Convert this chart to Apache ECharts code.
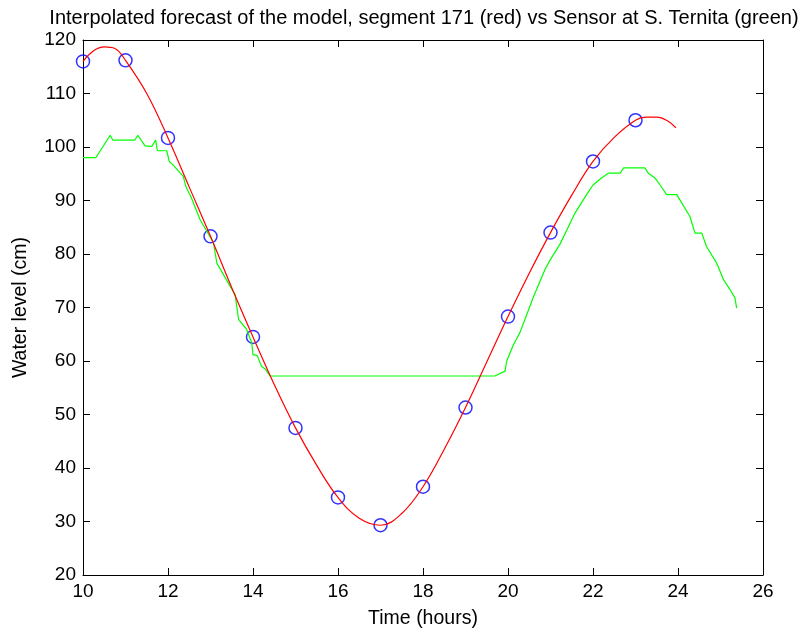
<!DOCTYPE html>
<html>
<head>
<meta charset="utf-8">
<script src="https://cdn.jsdelivr.net/npm/echarts@6/dist/echarts.min.js"></script>
<style>
  html, body { margin: 0; padding: 0; background: #fff; }
  #main { width: 804px; height: 634px; }
</style>
</head>
<body>
<div id="main"></div>
<script>
// hourly forecast points of the model (blue circles)
var markHours = [10, 11, 12, 13, 14, 15, 16, 17, 18, 19, 20, 21, 22, 23];
var markLevels = [116, 116.2, 101.7, 83.3, 64.5, 47.5, 34.5, 29.3, 36.5, 51.3, 68.3, 84, 97.3, 105];

// interpolated model curve (red)
var redHours = [10, 10.25, 10.5, 10.75, 11, 11.5, 12, 12.5, 13, 13.5, 14, 14.5, 15, 15.5, 16, 16.5, 17,
  17.5, 18, 18.5, 19, 19.5, 20, 20.5, 21, 21.5, 22, 22.5, 23, 23.25, 23.5, 23.75, 23.95];
var redLevels = [116, 118, 118.7, 118.4, 116.2, 110, 101.7, 92.5, 83.3, 73.7, 64.5, 55.6, 47.5, 40.5, 34.5, 30.6, 29.3,
  31.5, 36.5, 43.5, 51.3, 59.8, 68.3, 76.4, 84, 91, 97.3, 101.8, 105, 105.6, 105.6, 104.9, 103.6];

// sensor at S. Ternita (green)
var greenHours = [10, 10.3, 10.64, 10.7, 11.22, 11.29, 11.46, 11.62, 11.71, 11.75, 11.97, 12.03, 12.1, 12.36, 12.42,
  12.55, 12.75, 13.07, 13.15, 13.46, 13.58, 13.66, 13.85, 13.97, 14.0, 14.1, 14.2, 14.3, 14.4,
  19.69, 19.93, 19.97, 20.13, 20.28, 20.4, 20.6, 20.87, 21.0, 21.22, 21.58, 21.85, 22.0, 22.2, 22.36,
  22.64, 22.72, 23.22, 23.3, 23.46, 23.58, 23.73, 23.97, 24.28, 24.4, 24.56, 24.67, 24.91, 25.07,
  25.22, 25.34, 25.38];
var greenLevels = [98, 98, 102.2, 101.3, 101.3, 102.2, 100.2, 100.1, 101.3, 99.3, 99.3, 97.3, 96.8, 94.5, 92.6,
  90.5, 86.5, 82.1, 78.3, 74.0, 72.4, 67.8, 65.9, 63.4, 61.2, 61, 59.0, 58.4, 57.2,
  57.2, 58.1, 60.0, 63.1, 65.3, 67.8, 72, 77.1, 79, 81.8, 87.7, 91.1, 92.9, 94.2, 95.1,
  95.1, 96.1, 96.1, 95.1, 94.2, 92.9, 91.1, 91.1, 87.0, 83.9, 83.9, 81.4, 78.3, 75.2,
  73.4, 71.8, 69.9];

var xTicks = { min: 10, max: 26, interval: 2 };
var yTicks = { min: 20, max: 120, interval: 10 };

function pairs(xs, ys) {
  var out = [];
  for (var i = 0; i < xs.length; i++) {
    out.push([xs[i], ys[i]]);
  }
  return out;
}

var FONT = 'Liberation Sans, Arial, sans-serif';
var axisLine = { show: true, lineStyle: { color: '#000', width: 1 } };
var tickIn = { show: true, inside: true, length: 7, lineStyle: { color: '#000' } };

var chart = echarts.init(document.getElementById('main'));
var option = {
  backgroundColor: '#fff',
  animation: false,
  title: {
    text: 'Interpolated forecast of the model, segment 171 (red) vs Sensor at S. Ternita (green)',
    left: 419, textAlign: 'center',
    top: 3,
    textStyle: { fontFamily: FONT, fontSize: 20, fontWeight: 'normal', color: '#000' }
  },
  grid: { left: 83, right: 41, top: 40, bottom: 58 },
  xAxis: [{
    type: 'value', min: xTicks.min, max: xTicks.max, interval: xTicks.interval,
    name: 'Time (hours)', nameLocation: 'middle', nameGap: 34,
    nameTextStyle: { fontFamily: FONT, fontSize: 19.5, color: '#000' },
    axisLine: axisLine, axisTick: tickIn,
    axisLabel: { fontFamily: FONT, fontSize: 19, color: '#000', margin: 7 },
    splitLine: { show: false }
  }, {
    type: 'value', position: 'top', min: xTicks.min, max: xTicks.max, interval: xTicks.interval,
    axisLine: axisLine, axisTick: tickIn, axisLabel: { show: false }, splitLine: { show: false }
  }],
  yAxis: [{
    type: 'value', min: yTicks.min, max: yTicks.max, interval: yTicks.interval,
    name: 'Water level (cm)', nameLocation: 'middle', nameGap: 52,
    nameTextStyle: { fontFamily: FONT, fontSize: 19.5, color: '#000' },
    axisLine: axisLine, axisTick: tickIn,
    axisLabel: { fontFamily: FONT, fontSize: 19, color: '#000', margin: 7 },
    splitLine: { show: false }
  }, {
    type: 'value', position: 'right', min: yTicks.min, max: yTicks.max, interval: yTicks.interval,
    axisLine: axisLine, axisTick: tickIn, axisLabel: { show: false }, splitLine: { show: false }
  }],
  series: [{
    name: 'sensor', type: 'line', data: pairs(greenHours, greenLevels),
    showSymbol: false, symbol: 'none',
    lineStyle: { color: '#00ff00', width: 1.2 }
  }, {
    name: 'model', type: 'line', data: pairs(redHours, redLevels),
    smooth: 0.4, showSymbol: false, symbol: 'none',
    lineStyle: { color: '#ff0000', width: 1.2 }
  }, {
    name: 'points', type: 'scatter', data: pairs(markHours, markLevels),
    symbol: 'circle', symbolSize: 13,
    itemStyle: { color: 'rgba(0,0,0,0)', borderColor: '#0000ff', borderWidth: 1.5 }
  }]
};
chart.setOption(option);
</script>
</body>
</html>
